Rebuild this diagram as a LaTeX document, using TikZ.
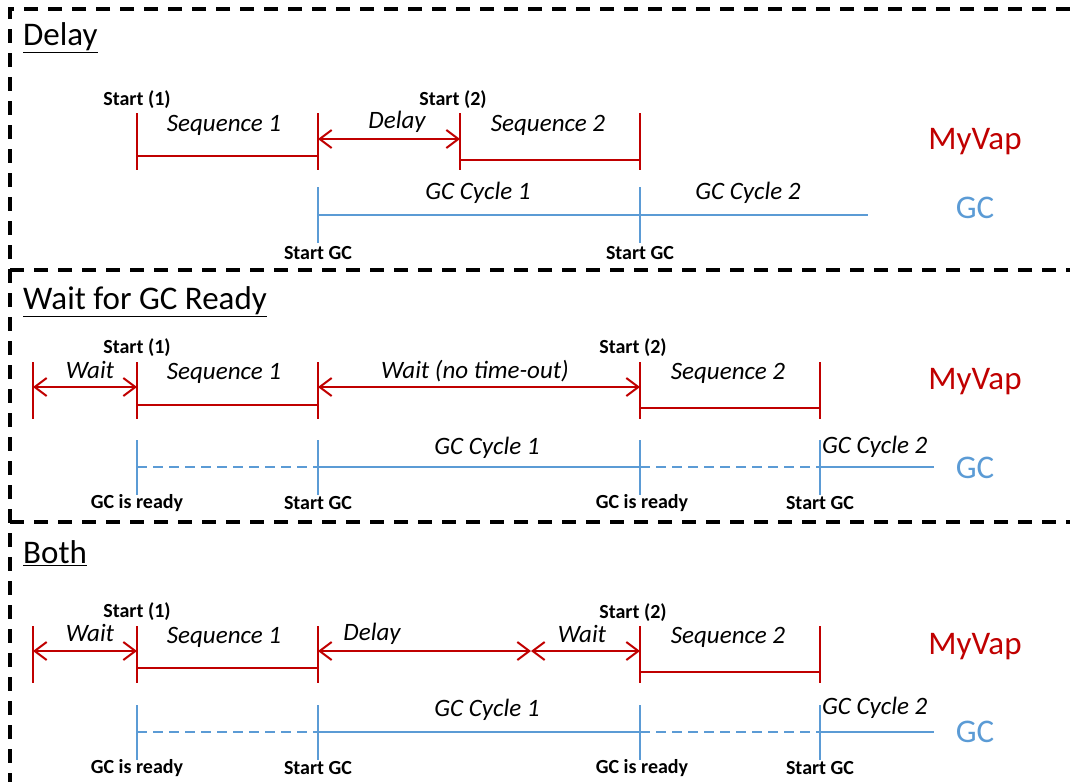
\documentclass[tikz,border=0pt]{standalone}
\usepackage{fontspec}
\setmainfont{Carlito}
\usetikzlibrary{arrows.meta}
\definecolor{vapred}{HTML}{C00000}
\definecolor{gcblue}{HTML}{5B9BD5}

\tikzset{
  frame/.style={black, line width=3.5pt, dash pattern=on 14pt off 10pt},
  redline/.style={vapred, line width=2pt},
  blueline/.style={gcblue, line width=2pt},
  bluegap/.style={gcblue, line width=2pt, dash pattern=on 10pt off 6pt},
  span/.style={vapred, line width=2pt,
    {Straight Barb[length=12pt,width=18pt]}-{Straight Barb[length=12pt,width=18pt]}},
  title/.style={anchor=west, inner sep=0pt, font=\fontsize{33}{37}\selectfont},
  lane/.style={inner sep=0pt, font=\fontsize{33}{37}\selectfont},
  phase/.style={inner sep=0pt, font=\itshape\fontsize{25}{29}\selectfont},
  tag/.style={inner sep=0pt, font=\bfseries\fontsize{20}{23}\selectfont}
}

\begin{document}
\begin{tikzpicture}[x=1pt,y=-1pt]
  \useasboundingbox (0,0) rectangle (1070,782);
  % dashed frame and the two separators
  \coordinate (fTL) at (10,9);
  \coordinate (fTR) at (1070,9);
  \coordinate (fBL) at (10,782);
  \coordinate (fM1) at (10,270);
  \coordinate (fM2) at (10,522);
  \draw[frame] (fTR) -- (fTL) -- (fBL);
  \draw[frame] (fM1) -- (fM1 -| fTR);
  \draw[frame] (fM2) -- (fM2 -| fTR);

  % Delay part of the Figure
  \node[title] (tDelay) at (23,38) {\underline{Delay}};
  \coordinate (dA) at (137,113);
  \coordinate (dB) at (318,113);
  \coordinate (dC) at (460,113);
  \coordinate (dD) at (640,113);
  \coordinate (dSeq1) at (0,156);
  \coordinate (dArr)  at (0,139);
  \coordinate (dSeq2) at (0,160);
  \coordinate (dTick) at (0,187); % top of the blue ticks
  \coordinate (dEnd)  at (868,215);
  \foreach \t in {dA,dB,dC,dD} \draw[redline] (\t) -- ++(0,57);
  \foreach \t in {dB,dD} \draw[blueline] (\t |- dTick) -- ++(0,56);
  \draw[redline] (dA |- dSeq1) -- (dB |- dSeq1);
  \draw[span]    (dB |- dArr) -- (dC |- dArr);
  \draw[redline] (dC |- dSeq2) -- (dD |- dSeq2);
  \draw[blueline] (dB |- dEnd) -- (dEnd);
  \node[tag]   (dS1)  at (137,100) {Start (1)};
  \node[tag]   (dS2)  at (453,100) {Start (2)};
  \node[phase] (dQ1)  at (224,125) {Sequence 1};
  \node[phase] (dDl)  at (397,122) {Delay};
  \node[phase] (dQ2)  at (548,125) {Sequence 2};
  \node[phase] (dGC1) at (478,193) {GC Cycle 1};
  \node[phase] (dGC2) at (748,193) {GC Cycle 2};
  \node[tag]   (dG1)  at (318,253) {Start GC};
  \node[tag]   (dG2)  at (640,253) {Start GC};
  \node[lane,vapred] (dVap) at (975,142) {MyVap};
  \node[lane,gcblue] (dGC)  at (975,208) {GC};

  % Wait for GC Ready part
  \node[title] (tWait) at (23,302) {\underline{Wait for GC Ready}};
  \coordinate (wA) at (33,362);
  \coordinate (wB) at (137,362);
  \coordinate (wC) at (318,362);
  \coordinate (wD) at (640,362);
  \coordinate (wE) at (820,362);
  \coordinate (wArr)  at (0,387);
  \coordinate (wSeq1) at (0,405);
  \coordinate (wSeq2) at (0,408);
  \coordinate (wTick) at (0,440);
  \coordinate (wEnd)  at (934,467);
  \foreach \t in {wA,wB,wC,wD,wE} \draw[redline] (\t) -- ++(0,57);
  \foreach \t in {wB,wC,wD,wE} \draw[blueline] (\t |- wTick) -- ++(0,55);
  \draw[span]    (wA |- wArr) -- (wB |- wArr);
  \draw[redline] (wB |- wSeq1) -- (wC |- wSeq1);
  \draw[span]    (wC |- wArr) -- (wD |- wArr);
  \draw[redline] (wD |- wSeq2) -- (wE |- wSeq2);
  \draw[bluegap]  (wB |- wEnd) -- (wC |- wEnd);
  \draw[blueline] (wC |- wEnd) -- (wD |- wEnd);
  \draw[bluegap]  (wD |- wEnd) -- (wE |- wEnd);
  \draw[blueline] (wE |- wEnd) -- (wEnd);
  \node[phase] (wW)   at (90,370)  {Wait};
  \node[tag]   (wS1)  at (137,348) {Start (1)};
  \node[phase] (wQ1)  at (224,373) {Sequence 1};
  \node[phase] (wNo)  at (475,371) {Wait (no time-out)};
  \node[tag]   (wS2)  at (633,348) {Start (2)};
  \node[phase] (wQ2)  at (728,373) {Sequence 2};
  \node[phase] (wGC1) at (487,448) {GC Cycle 1};
  \node[phase,anchor=west] (wGC2) at (822,447) {GC Cycle 2};
  \node[tag]   (wR1)  at (137,503) {GC is ready};
  \node[tag]   (wG1)  at (318,503) {Start GC};
  \node[tag]   (wR2)  at (642,503) {GC is ready};
  \node[tag]   (wG2)  at (820,503) {Start GC};
  \node[lane,vapred] (wVap) at (975,382) {MyVap};
  \node[lane,gcblue] (wGC)  at (975,468) {GC};

  % Both part
  \node[title] (tBoth) at (23,553) {\underline{Both}};
  \coordinate (bA) at (33,626);
  \coordinate (bB) at (137,626);
  \coordinate (bC) at (318,626);
  \coordinate (bM) at (531,626); % delay ends, wait begins
  \coordinate (bD) at (640,626);
  \coordinate (bE) at (820,626);
  \coordinate (bArr)  at (0,651);
  \coordinate (bSeq1) at (0,668);
  \coordinate (bSeq2) at (0,672);
  \coordinate (bTick) at (0,705);
  \coordinate (bEnd)  at (934,732);
  \foreach \t in {bA,bB,bC,bD,bE} \draw[redline] (\t) -- ++(0,57);
  \foreach \t in {bB,bC,bD,bE} \draw[blueline] (\t |- bTick) -- ++(0,55);
  \draw[span]    (bA |- bArr) -- (bB |- bArr);
  \draw[redline] (bB |- bSeq1) -- (bC |- bSeq1);
  \draw[span]    (bC |- bArr) -- (bM |- bArr);
  \draw[span]    (bM |- bArr) -- (bD |- bArr);
  \draw[redline] (bD |- bSeq2) -- (bE |- bSeq2);
  \draw[bluegap]  (bB |- bEnd) -- (bC |- bEnd);
  \draw[blueline] (bC |- bEnd) -- (bD |- bEnd);
  \draw[bluegap]  (bD |- bEnd) -- (bE |- bEnd);
  \draw[blueline] (bE |- bEnd) -- (bEnd);
  \node[phase] (bW1)  at (90,633)  {Wait};
  \node[tag]   (bS1)  at (137,612) {Start (1)};
  \node[phase] (bQ1)  at (224,637) {Sequence 1};
  \node[phase] (bDl)  at (372,634) {Delay};
  \node[phase] (bW2)  at (582,634) {Wait};
  \node[tag]   (bS2)  at (633,613) {Start (2)};
  \node[phase] (bQ2)  at (728,637) {Sequence 2};
  \node[phase] (bGC1) at (487,710) {GC Cycle 1};
  \node[phase,anchor=west] (bGC2) at (822,708) {GC Cycle 2};
  \node[tag]   (bR1)  at (137,768) {GC is ready};
  \node[tag]   (bG1)  at (318,768) {Start GC};
  \node[tag]   (bR2)  at (642,768) {GC is ready};
  \node[tag]   (bG2)  at (820,768) {Start GC};
  \node[lane,vapred] (bVap) at (975,647) {MyVap};
  \node[lane,gcblue] (bGC)  at (975,732) {GC};
\end{tikzpicture}
\end{document}
